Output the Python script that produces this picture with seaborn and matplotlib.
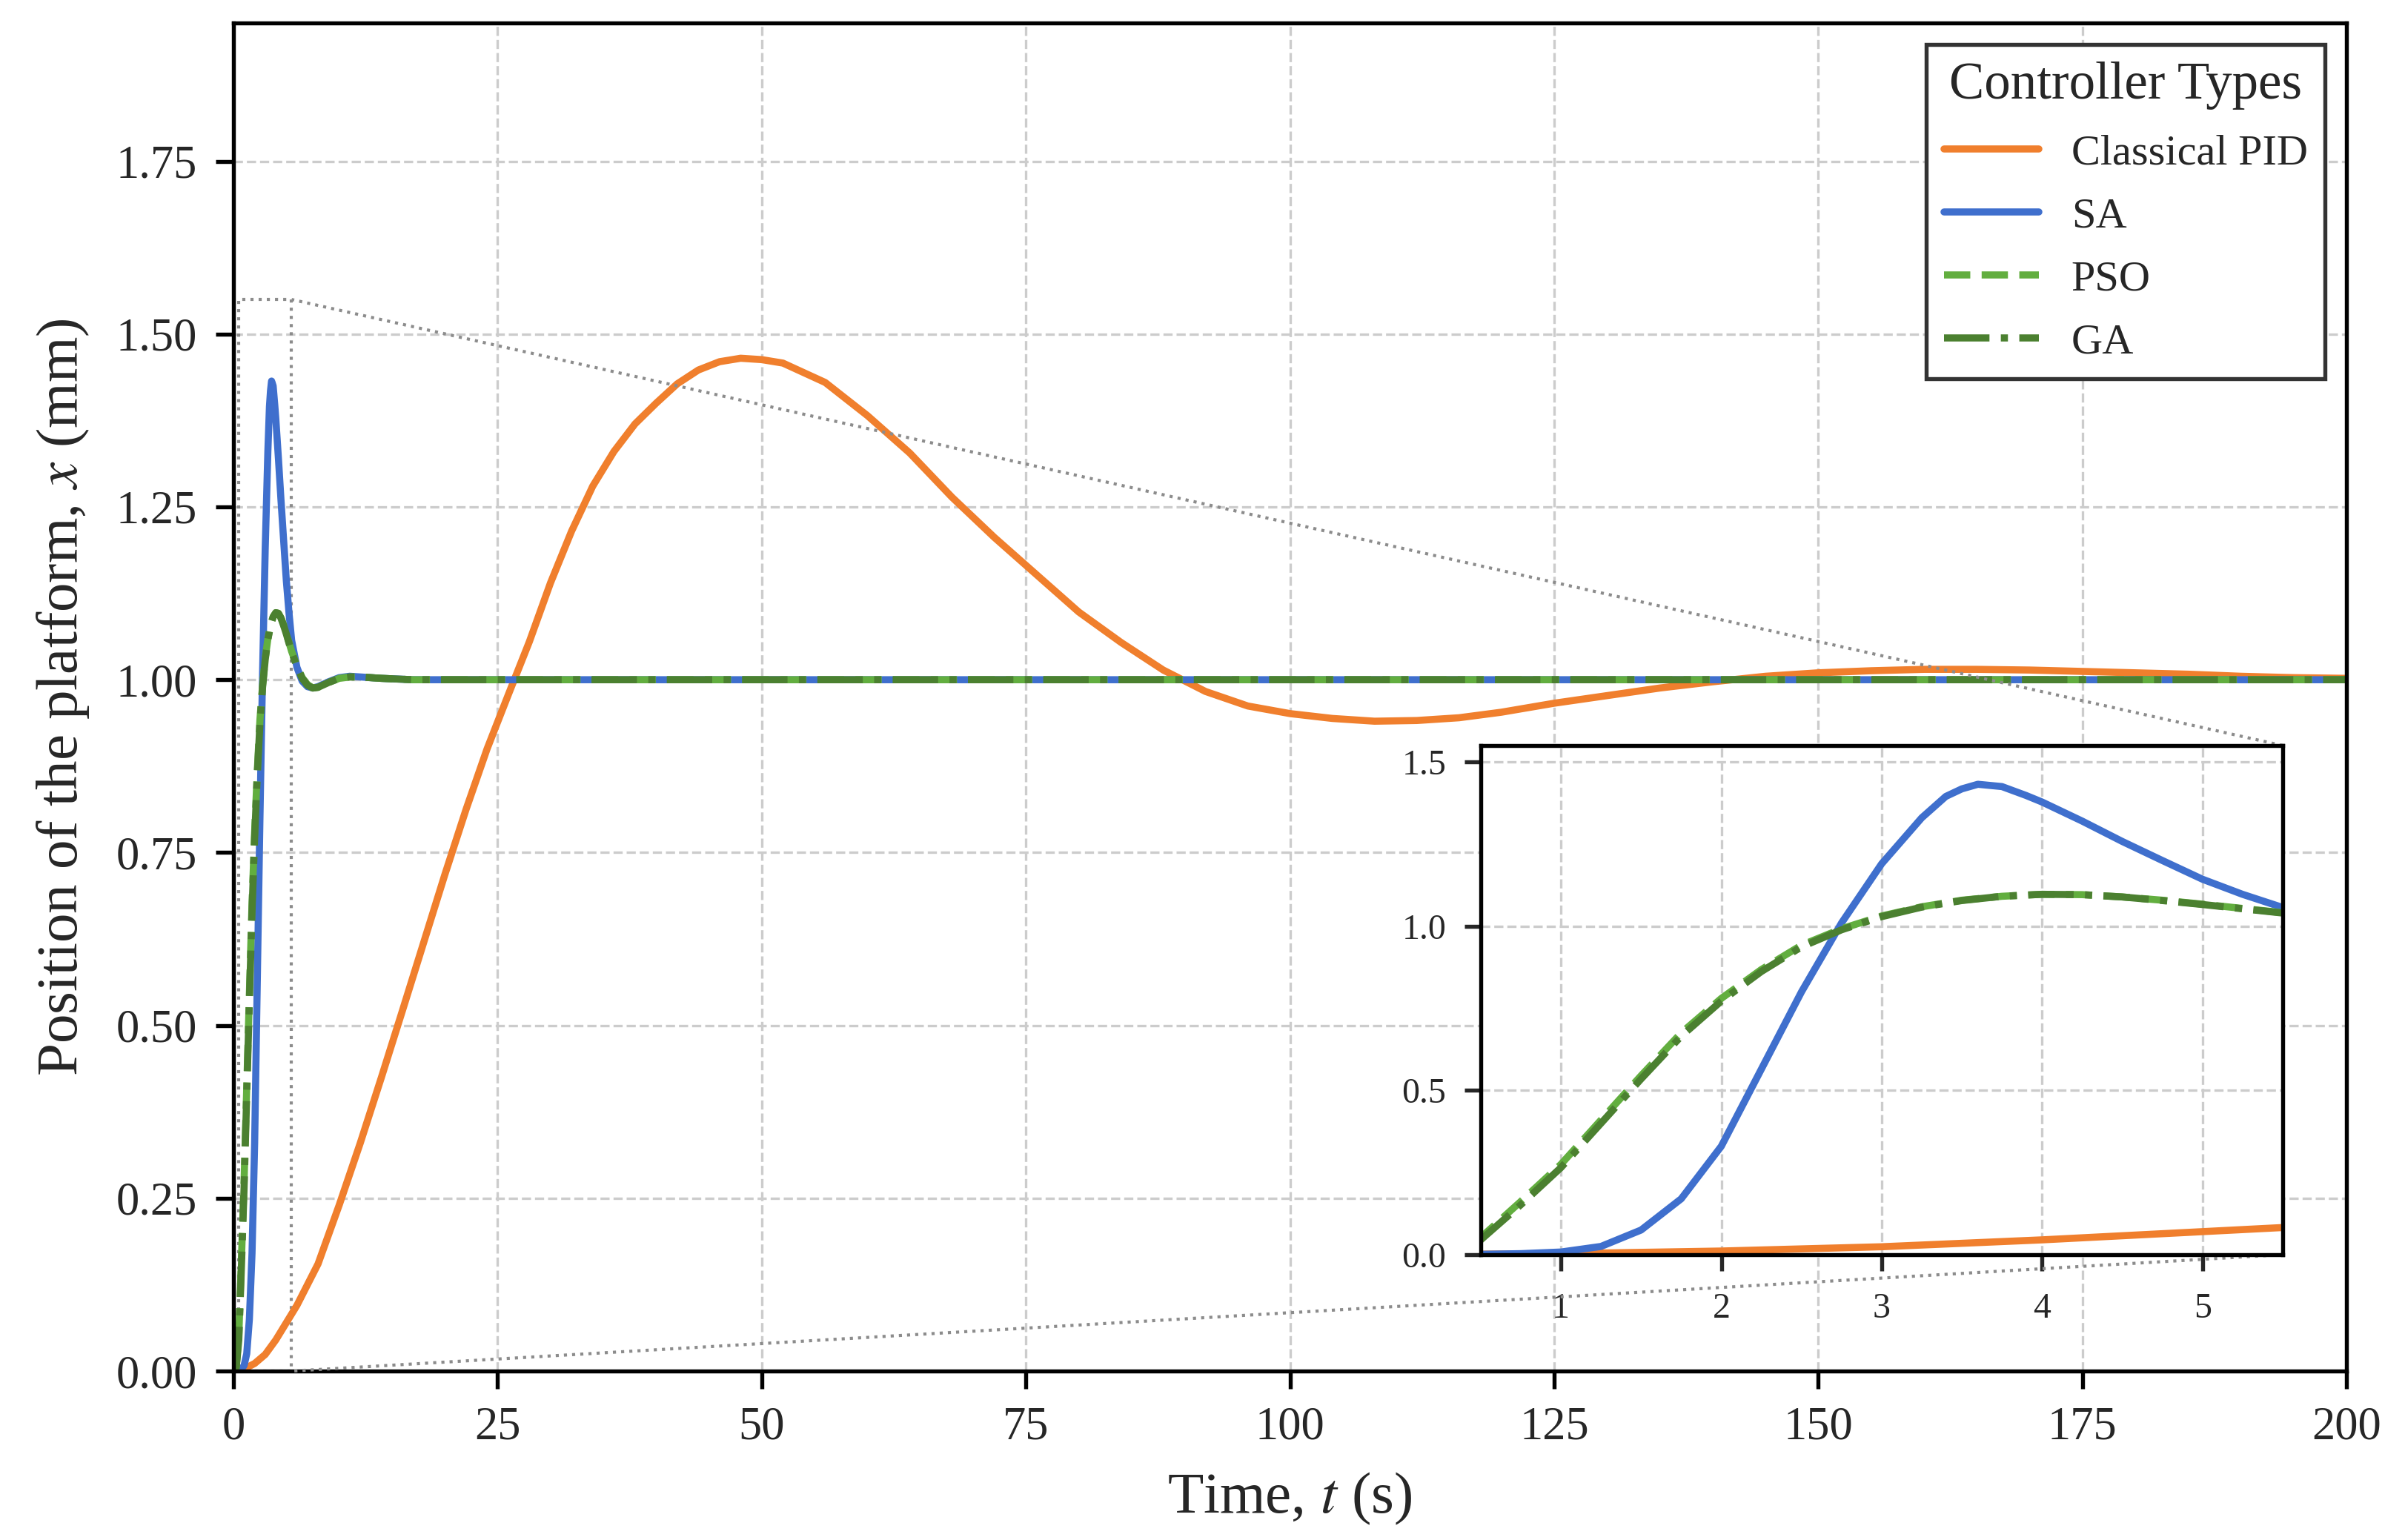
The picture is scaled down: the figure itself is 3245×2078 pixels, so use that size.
import seaborn as sns
import matplotlib.pyplot as plt
import matplotlib.ticker as mticker
from mpl_toolkits.axes_grid1.inset_locator import mark_inset

# step responses
t_pid = [0, 1, 2, 3, 4, 5, 6, 8, 10, 12, 14, 16, 18, 20, 22, 24, 26, 28, 30, 32, 34, 36, 38,
         40, 42, 44, 46, 48, 50, 52, 56, 60, 64, 68, 72, 76, 80, 84, 88, 92, 96, 100, 104,
         108, 112, 116, 120, 125, 130, 135, 140, 145, 150, 155, 160, 165, 170, 175, 180,
         185, 190, 195, 200]
x_pid = [0, 0.003, 0.011, 0.024, 0.045, 0.07, 0.095, 0.155, 0.24, 0.33, 0.425, 0.522, 0.62,
         0.718, 0.812, 0.90, 0.978, 1.055, 1.14, 1.215, 1.28, 1.33, 1.37, 1.40, 1.428, 1.448,
         1.46, 1.465, 1.463, 1.458, 1.43, 1.382, 1.328, 1.264, 1.206, 1.152, 1.098, 1.054,
         1.014, 0.983, 0.962, 0.951, 0.944, 0.940, 0.941, 0.945, 0.953, 0.966, 0.977, 0.988,
         0.997, 1.005, 1.010, 1.013, 1.015, 1.015, 1.014, 1.012, 1.010, 1.008, 1.005, 1.003,
         1.002]

t_sa = [0, 0.25, 0.5, 0.75, 1.0, 1.25, 1.5, 1.75, 2.0, 2.25, 2.5, 2.75, 3.0, 3.25, 3.4, 3.5,
        3.6, 3.75, 3.9, 4.0, 4.25, 4.5, 4.75, 5.0, 5.25, 5.5, 6.0, 6.5, 7.0, 7.5, 8.0, 9.0,
        10.0, 11.0, 12.0, 14.0, 17.0, 30.0, 100.0, 200.0]
x_sa = [0, 0, 0.001, 0.003, 0.008, 0.025, 0.075, 0.17, 0.33, 0.565, 0.80, 1.01, 1.19, 1.33,
        1.395, 1.418, 1.432, 1.425, 1.398, 1.378, 1.32, 1.258, 1.20, 1.143, 1.097, 1.057,
        1.018, 0.998, 0.99, 0.988, 0.99, 0.997, 1.003, 1.005, 1.004, 1.002, 1.0, 1.0, 1.0, 1.0]

t_pso = [0, 0.25, 0.5, 0.75, 1.0, 1.25, 1.5, 1.75, 2.0, 2.25, 2.5, 2.75, 3.0, 3.25, 3.5, 3.75,
         4.0, 4.25, 4.5, 4.75, 5.0, 5.25, 5.5, 6.0, 6.5, 7.0, 7.5, 8.0, 9.0, 10.0, 11.0, 12.0,
         14.0, 17.0, 30.0, 100.0, 200.0]
x_pso = [0, 0.005, 0.052, 0.162, 0.275, 0.41, 0.545, 0.675, 0.78, 0.868, 0.942, 0.992, 1.031,
         1.059, 1.079, 1.091, 1.097, 1.096, 1.089, 1.079, 1.067, 1.054, 1.041, 1.02, 1.003,
         0.993, 0.988, 0.989, 0.996, 1.002, 1.004, 1.004, 1.002, 1.0, 1.0, 1.0, 1.0]

t_ga = t_pso
x_ga = [0, 0.004, 0.045, 0.152, 0.265, 0.40, 0.535, 0.665, 0.772, 0.862, 0.937, 0.989, 1.029,
        1.058, 1.078, 1.091, 1.097, 1.096, 1.089, 1.078, 1.066, 1.053, 1.040, 1.019, 1.002,
        0.992, 0.988, 0.989, 0.996, 1.002, 1.004, 1.004, 1.002, 1.0, 1.0, 1.0, 1.0]

series = [
    ("Classical PID", t_pid, x_pid, "#f07f2d", "-"),
    ("SA", t_sa, x_sa, "#3f6fcd", "-"),
    ("PSO", t_pso, x_pso, "#62ae3f", "--"),
    ("GA", t_ga, x_ga, "#4b8030", "-."),
]

sns.set_style("ticks")
plt.rcParams["font.family"] = ["Liberation Serif", "DejaVu Serif"]
plt.rcParams["mathtext.fontset"] = "stix"

fig = plt.figure(figsize=(3245 / 300, 2078 / 300), dpi=300)
ax = fig.add_axes([0.0971, 0.1097, 0.8786, 0.8754])

for name, t, v, c, ls in series:
    sns.lineplot(x=t, y=v, ax=ax, color=c, linestyle=ls, linewidth=2.3, label=name,
                 sort=False, estimator=None)

ax.set_xlim(0, 200)
ax.set_ylim(0, 1.95)
ax.set_xticks(range(0, 201, 25))
ax.set_yticks([0, 0.25, 0.5, 0.75, 1.0, 1.25, 1.5, 1.75])
ax.yaxis.set_major_formatter(mticker.FormatStrFormatter("%.2f"))
ax.grid(True, ls="--", lw=0.8, color="#cccccc")
ax.tick_params(labelsize=15, length=5.8, width=1.3, color="black")
ax.tick_params(axis="x", pad=5.5)
ax.tick_params(axis="y", pad=6)
for s in ax.spines.values():
    s.set_linewidth(1.3)
    s.set_color("black")
ax.set_xlabel("Time, $t$ (s)", fontsize=19, labelpad=7)
ax.set_ylabel("Position of the platform, $x$ (mm)", fontsize=19, labelpad=8)

leg = ax.legend(title="Controller Types", loc="upper right", fontsize=14, title_fontsize=17,
                fancybox=False, framealpha=1, edgecolor="#333333", handlelength=2.2,
                handletextpad=0.75, labelspacing=0.55)
leg.get_frame().set_linewidth(1.3)

# zoomed view of the first seconds
axins = fig.add_axes([0.6157, 0.1853, 0.3334, 0.3306])
for name, t, v, c, ls in series:
    sns.lineplot(x=t, y=v, ax=axins, color=c, linestyle=ls, linewidth=2.3,
                 sort=False, estimator=None)
axins.set_xlim(0.5, 5.5)
axins.set_ylim(0, 1.55)
axins.set_xticks([1, 2, 3, 4, 5])
axins.set_yticks([0, 0.5, 1.0, 1.5])
axins.yaxis.set_major_formatter(mticker.FormatStrFormatter("%.1f"))
axins.grid(True, ls="--", lw=0.8, color="#cccccc")
axins.tick_params(labelsize=11.5, length=5.2, width=1.3)
axins.tick_params(axis="x", pad=7)
axins.tick_params(axis="y", pad=6)
for s in axins.spines.values():
    s.set_linewidth(1.3)
    s.set_color("black")
mark_inset(ax, axins, loc1=1, loc2=4, fc="none", ec="0.55", ls=":", lw=1.0)

fig.savefig("out.png", dpi=300)
